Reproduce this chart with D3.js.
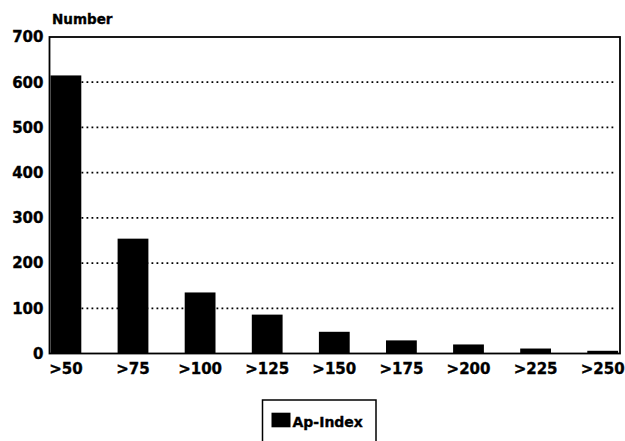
<!DOCTYPE html>
<html>
<head>
<meta charset="utf-8">
<script src="https://cdn.jsdelivr.net/npm/d3@7"></script>
<style>
  html, body { margin: 0; padding: 0; background: #fff; }
  svg { display: block; }
  text { font-family: "DejaVu Sans", sans-serif; font-weight: bold; fill: #000; stroke: #000; stroke-width: 0.35px; }
</style>
</head>
<body>
<svg id="chart" width="625" height="441"></svg>
<script>
// Counts of days above each Ap-index threshold
const categories = [">50", ">75", ">100", ">125", ">150", ">175", ">200", ">225", ">250"];
const counts = [615, 254, 135, 86, 48, 29, 20, 11, 6];
const yTicks = [0, 100, 200, 300, 400, 500, 600, 700];
const gridValues = [100, 200, 300, 400, 500, 600];
const seriesName = "Ap-Index";
const yTitle = "Number";

const svg = d3.select("#chart");

const plotLeft = 49.5, plotRight = 620, plotTop = 37, plotBottom = 353.5;

const x = d3.scaleBand()
  .domain(categories)
  .range([50.5, 618.1])
  .paddingInner(0.541)
  .paddingOuter(0);

const y = d3.scaleLinear()
  .domain([0, 700])
  .range([plotBottom, plotTop]);

// dotted gridlines
svg.append("g")
  .selectAll("line")
  .data(gridValues)
  .join("line")
  .attr("x1", plotLeft + 2)
  .attr("x2", 614)
  .attr("y1", d => y(d))
  .attr("y2", d => y(d))
  .attr("stroke", "#000")
  .attr("stroke-width", 1.8)
  .attr("stroke-dasharray", "1.8,3.2");

// bars
svg.append("g")
  .selectAll("rect")
  .data(categories.map((c, i) => ({ c, v: counts[i] })))
  .join("rect")
  .attr("x", d => x(d.c))
  .attr("width", x.bandwidth())
  .attr("y", d => y(d.v))
  .attr("height", d => y(0) - y(d.v))
  .attr("fill", "#000");

// plot frame
svg.append("rect")
  .attr("x", plotLeft)
  .attr("y", plotTop)
  .attr("width", plotRight - plotLeft)
  .attr("height", plotBottom - plotTop)
  .attr("fill", "none")
  .attr("stroke", "#000")
  .attr("stroke-width", 1.8);

// y axis labels
const yAxis = d3.axisLeft(y).tickValues(yTicks).tickSize(0).tickPadding(6).tickFormat(d3.format("d"));
const gy = svg.append("g").attr("transform", `translate(${plotLeft},0)`).call(yAxis);
gy.select(".domain").remove();
gy.selectAll("text")
  .attr("font-family", "DejaVu Sans")
  .attr("font-weight", "bold")
  .attr("font-size", 15)
  .attr("fill", "#000");

// x axis labels
const xAxis = d3.axisBottom(x).tickSize(0).tickPadding(10);
const gx = svg.append("g").attr("transform", `translate(0,${plotBottom})`).call(xAxis);
gx.select(".domain").remove();
gx.selectAll("text")
  .attr("font-family", "DejaVu Sans")
  .attr("font-weight", "bold")
  .attr("font-size", 15)
  .attr("fill", "#000");

// y title
svg.append("text")
  .attr("x", 52)
  .attr("y", 23.5)
  .attr("font-size", 13.5)
  .text(yTitle);

// legend
const legend = svg.append("g");
legend.append("rect")
  .attr("x", 262.5)
  .attr("y", 400)
  .attr("width", 113.5)
  .attr("height", 60)
  .attr("fill", "none")
  .attr("stroke", "#000")
  .attr("stroke-width", 1.5);
legend.append("rect")
  .attr("x", 271.5)
  .attr("y", 412.7)
  .attr("width", 19)
  .attr("height", 14.6)
  .attr("fill", "#000");
legend.append("text")
  .attr("x", 292.5)
  .attr("y", 427)
  .attr("font-size", 14)
  .text(seriesName);
</script>
</body>
</html>
